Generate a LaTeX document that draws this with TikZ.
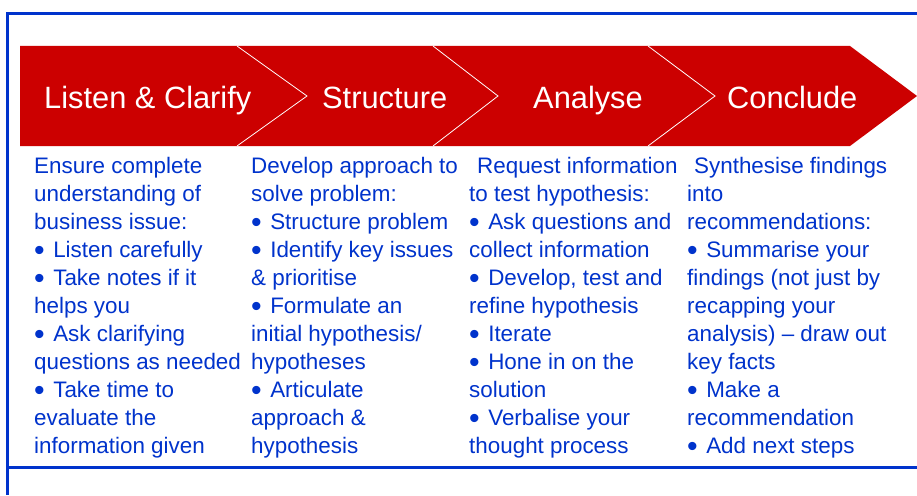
\documentclass[tikz,border=0pt]{standalone}
\usepackage{fontspec}
\setmainfont{Liberation Sans}
\definecolor{bandred}{HTML}{CC0000}
\definecolor{txtblue}{HTML}{0033CC}
\newcommand{\bul}{\raisebox{-3.6pt}{\scalebox{1.35}{\textbullet}}\hspace{8.5pt}}
\begin{document}
\begin{tikzpicture}[x=1pt,y=-1pt,
  title/.style={anchor=base west,inner sep=0pt,text=white,font=\fontsize{30.8}{36}\selectfont},
  body/.style={anchor=base west,inner sep=0pt,align=left,text=txtblue,font=\fontsize{22.4}{28}\selectfont},
  sep/.style={draw=white,line width=0.8pt},
  frame/.style={draw=txtblue,line width=3pt}]
\useasboundingbox (0,0) rectangle (917,495);
\fill[white] (0,0) rectangle (917,495);
% frame
\draw[frame] (917,14) -- (7,14) -- (7,495);
\draw[frame] (7,467) -- (917,467);
% band
\fill[bandred] (20,46) -- (850,46) -- (917,96) -- (850,146) -- (20,146) -- cycle;
\coordinate (s1t) at (237,46); \coordinate (s1m) at (307,96); \coordinate (s1b) at (237,146);
\coordinate (s2t) at (433,46); \coordinate (s2m) at (498,96); \coordinate (s2b) at (433,146);
\coordinate (s3t) at (648,46); \coordinate (s3m) at (715,96); \coordinate (s3b) at (648,146);
\draw[sep] (s1t) -- (s1m) -- (s1b);
\draw[sep] (s2t) -- (s2m) -- (s2b);
\draw[sep] (s3t) -- (s3m) -- (s3b);
% titles
\node[title] (t1) at (44,108) {Listen \& Clarify};
\node[title] (t2) at (322,108) {Structure};
\node[title] (t3) at (533,108) {Analyse};
\node[title] (t4) at (727,108) {Conclude};
% columns (anchored at the baseline of the last line)
\node[body] (c1) at (34,453) {Ensure complete\\understanding of\\business issue:\\\bul Listen carefully\\\bul Take notes if it\\helps you\\\bul Ask clarifying\\questions as needed\\\bul Take time to\\evaluate the\\information given};
\node[body] (c2) at (251,453) {Develop approach to\\solve problem:\\\bul Structure problem\\\bul Identify key issues\\\& prioritise\\\bul Formulate an\\initial hypothesis/\\hypotheses\\\bul Articulate\\approach \&\\hypothesis};
\node[body] (c3) at (469,453) {\hspace{8pt}Request information\\to test hypothesis:\\\bul Ask questions and\\collect information\\\bul Develop, test and\\refine hypothesis\\\bul Iterate\\\bul Hone in on the\\solution\\\bul Verbalise your\\thought process};
\node[body] (c4) at (687,453) {\hspace{7pt}Synthesise findings\\into\\recommendations:\\\bul Summarise your\\findings (not just by\\recapping your\\analysis) – draw out\\key facts\\\bul Make a\\recommendation\\\bul Add next steps};
\end{tikzpicture}
\end{document}
